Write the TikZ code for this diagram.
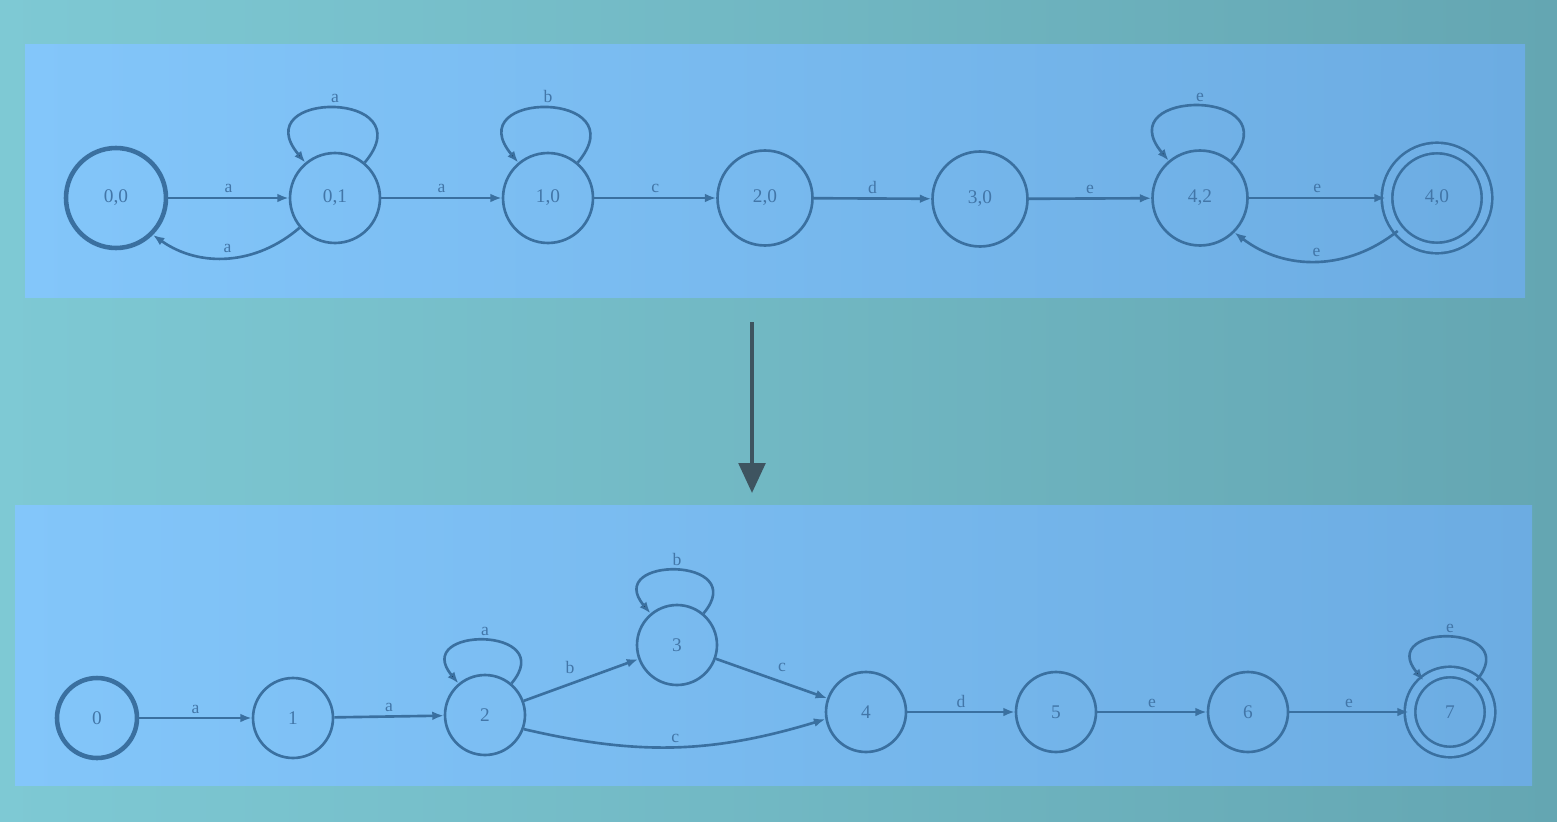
\documentclass[tikz,border=0pt]{standalone}
\usepackage{fontspec}
\setmainfont{Liberation Serif}
\usetikzlibrary{arrows.meta}
\definecolor{bgl}{RGB}{126,201,212}
\definecolor{bgr}{RGB}{100,166,178}
\definecolor{pnl}{RGB}{131,198,250}
\definecolor{pnr}{RGB}{108,172,226}
\definecolor{pnm}{RGB}{112,176,230}
\definecolor{ink}{RGB}{58,112,160}
\definecolor{txt}{RGB}{66,118,168}
\definecolor{bigc}{RGB}{62,84,96}

\begin{document}
\begin{tikzpicture}[x=0.02cm, y=-0.02cm,
		state/.style={circle, draw=ink, line width=1.5pt, minimum size=1.8cm, inner sep=0pt, text=txt, font=\fontsize{11}{13}\selectfont},
		small/.style={state, minimum size=1.6cm},
		start/.style={line width=2.6pt},
		accept/.style={double=pnm, double distance=4.5pt},
		tr/.style={-{Latex[length=6.5pt,width=5pt]}, draw=ink, line width=1.5pt},
		lbl/.style={text=txt, font=\fontsize{10}{12}\selectfont, inner sep=2pt},
		toploop/.style={loop, out=50, in=130, min distance=1.9cm},
		botloop/.style={loop, out=50, in=130, min distance=1.5cm},
		bigarrow/.style={-{Triangle[length=17pt,width=15pt]}, draw=bigc, line width=2.4pt}]
			%%%%% BACKGROUND %%%%%
			
			\fill[left color=bgl, right color=bgr] (0, 0) rectangle (1557, 821);
			\fill[left color=pnl, right color=pnr] (25, 45) rectangle (1525, 297);
			\fill[left color=pnl, right color=pnr] (15, 505) rectangle (1532, 785);
			
			%%%%% TOP %%%%%
			
			\node[state, start, minimum size=2cm] (s00) at (116, 198) {0,0};
			\node[state] (s01) at (335, 198) {0,1};
			\node[state] (s10) at (548, 198) {1,0};
			\node[state, minimum size=1.9cm] (s20) at (765, 198) {2,0};
			\node[state, minimum size=1.9cm] (s30) at (980, 199) {3,0};
			\node[state, minimum size=1.9cm] (s42) at (1200, 198) {4,2};
			\node[state, accept, minimum size=2cm] (s40) at (1437, 198) {4,0};
			
			\draw[tr] (s00) -- node[lbl, above] {a} (s01);
			\draw[tr] (s01) edge[toploop] node[lbl, above] {a} (s01);
			\draw[tr] (s01.-140) to[bend left=38] node[lbl, above] {a} (s00.-45);
			\draw[tr] (s01) -- node[lbl, above] {a} (s10);
			\draw[tr] (s10) edge[toploop] node[lbl, above] {b} (s10);
			\draw[tr] (s10) -- node[lbl, above] {c} (s20);
			\draw[tr] (s20) -- node[lbl, above] {d} (s30);
			\draw[tr] (s30) -- node[lbl, above] {e} (s42);
			\draw[tr] (s42) edge[toploop] node[lbl, above] {e} (s42);
			\draw[tr] (s42) -- node[lbl, above] {e} (s40);
			\draw[tr] (s40.-140) to[bend left=38] node[lbl, above] {e} (s42.-45);
			
			%%%%% ARROW %%%%%
			
			\coordinate (atop) at (752, 322);
			\coordinate (abot) at (752, 493);
			\draw[bigarrow] (atop) -- (abot);
			
			%%%%% BOTTOM %%%%%
			
			\node[small, start] (b0) at (97, 718) {0};
			\node[small] (b1) at (293, 718) {1};
			\node[small] (b2) at (485, 715) {2};
			\node[small] (b3) at (677, 645) {3};
			\node[small] (b4) at (866, 712) {4};
			\node[small] (b5) at (1056, 712) {5};
			\node[small] (b6) at (1248, 712) {6};
			\node[small, accept, minimum size=1.6cm] (b7) at (1450, 712) {7};
			
			\draw[tr] (b0) -- node[lbl, above] {a} (b1);
			\draw[tr] (b1) -- node[lbl, above] {a} (b2);
			\draw[tr] (b2) edge[botloop] node[lbl, above] {a} (b2);
			\draw[tr] (b2) -- node[lbl, above left=1pt] {b} (b3);
			\draw[tr] (b3) edge[botloop] node[lbl, above] {b} (b3);
			\draw[tr] (b3) -- node[lbl, above right=1pt] {c} (b4);
			\draw[tr] (b2.-20) to[bend right=15] node[lbl, above] {c} (b4.190);
			\draw[tr] (b4) -- node[lbl, above] {d} (b5);
			\draw[tr] (b5) -- node[lbl, above] {e} (b6);
			\draw[tr] (b6) -- node[lbl, above] {e} (b7);
			\draw[tr] (b7) edge[botloop] node[lbl, above] {e} (b7);
			
			%%%%% END %%%%%
		\end{tikzpicture}
\end{document}
